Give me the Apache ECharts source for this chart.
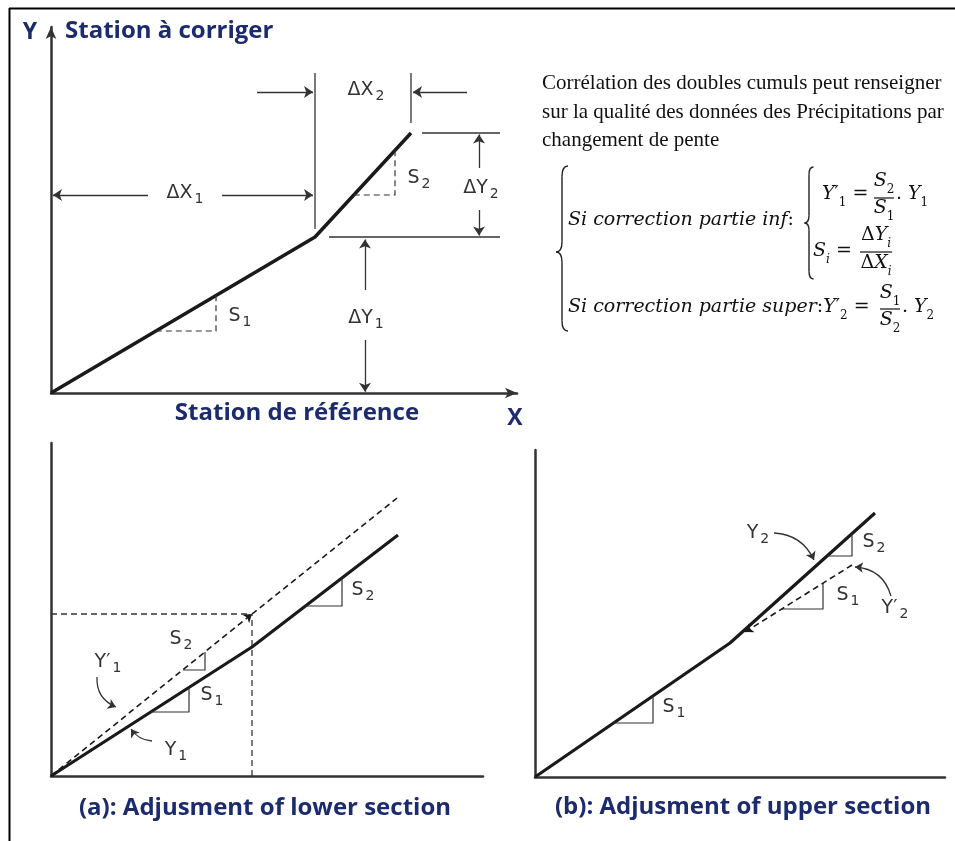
<!DOCTYPE html>
<html>
<head>
<meta charset="utf-8">
<script src="https://cdn.jsdelivr.net/npm/echarts@6/dist/echarts.min.js"></script>
<style>
  html, body { margin: 0; padding: 0; background: #ffffff; }
  #chart { width: 955px; height: 841px; }
</style>
</head>
<body>
<div id="chart"></div>
<script>
// ---------- Panel 1: double-mass curve with a change of slope ----------
const massCurve   = [[0, 0], [66, 39], [90, 65]];
const triS1       = [[26.2, 15.5], [41.25, 15.5], [41.25, 24.4]];
const triS2       = [[75.7, 49.5], [86, 49.5], [86, 60.7]];
const breakGuide  = [[66, 41], [66, 80]];
const endGuide    = [[90, 67.5], [90, 80]];
const topLevel    = [[92.75, 65], [112.25, 65]];
const breakLevel  = [[69.5, 39], [112.25, 39]];
// dimension arrows: [tail, head]
const dimArrows = [
  [[51.5, 75.25], [65.5, 75.25]],
  [[104, 75.25], [90.5, 75.25]],
  [[24.25, 49.5], [0.5, 49.5]],
  [[42.75, 49.5], [65.5, 49.5]],
  [[107, 56.25], [107, 64.6]],
  [[107, 45.75], [107, 39.4]],
  [[78.5, 25.75], [78.5, 38.4]],
  [[78.5, 13.25], [78.5, 0.3]]
];

// ---------- Panel (a): adjustment of the lower section ----------
const curveA       = [[0, 0], [50.25, 32.25], [86.75, 60.25]];
const correctedA1  = [[0, 0], [50.25, 40.5]];
const correctedA2  = [[50.25, 40.5], [86.5, 69.5]];
const levelA       = [[0, 40.5], [49.5, 40.5]];
const breakA       = [[50.25, 0], [50.25, 40.5]];
const triA_S2low   = [[33, 26.5], [38.5, 26.5], [38.5, 31]];
const triA_S1      = [[24.9, 16], [34.5, 16], [34.5, 22.1]];
const triA_S2      = [[63.6, 42.5], [72.75, 42.5], [72.75, 49.5]];
const pointerA_Y1p = [[11.5, 24.75], [16.25, 17.25]];
const pointerA_Y1  = [[25.25, 8.75], [20, 11.75]];

// ---------- Panel (b): adjustment of the upper section ----------
const curveB       = [[0, 0], [48.75, 33.5], [85, 66]];
const correctedB   = [[79.25, 53], [52.5, 36.25]];
const triB_S1low   = [[19.7, 13.5], [29.5, 13.5], [29.5, 20.3]];
const triB_S1      = [[61.7, 42], [72, 42], [72, 48.5]];
const triB_S2      = [[73, 55.25], [79.25, 55.25], [79.25, 60.9]];
const pointerB_Y2  = [[59.75, 61], [69.75, 54.25]];
const pointerB_Y2p = [[89, 45.25], [80, 52.5]];

// ---------- styling ----------
const NAVY = '#1c2b6e';
const INK = '#1a1a1a';
const GREY = '#333333';
const SANS = '"DejaVu Sans", sans-serif';
const BOLD = '"Open Sans", "Noto Sans", sans-serif';
const SERIF = '"Liberation Serif", "Times New Roman", serif';
const MATH = '"DejaVu Serif", serif';

function axesFor(gi, xmax, ymax, withArrow) {
  const line = {
    show: true, onZero: false,
    symbol: withArrow ? ['none', 'arrow'] : 'none',
    symbolSize: [8, 12],
    lineStyle: { color: GREY, width: 2.5 }
  };
  const common = {
    type: 'value', gridIndex: gi, min: 0,
    axisLine: line, axisTick: { show: false }, axisLabel: { show: false },
    splitLine: { show: false }
  };
  return {
    x: Object.assign({}, common, { max: xmax }),
    y: Object.assign({}, common, { max: ymax })
  };
}

function path(gi, data, width, dashed, color) {
  return {
    type: 'line', xAxisIndex: gi, yAxisIndex: gi, data: data,
    symbol: 'none', silent: true, animation: false, z: 3,
    lineStyle: { width: width, color: color || INK, type: dashed ? [6, 4] : 'solid', cap: 'butt', join: 'round' }
  };
}

function arrows(gi, segs, opt) {
  opt = opt || {};
  return {
    type: 'lines', coordinateSystem: 'cartesian2d', xAxisIndex: gi, yAxisIndex: gi,
    silent: true, animation: false, z: 4,
    symbol: ['none', 'arrow'], symbolSize: opt.size || 9,
    lineStyle: {
      color: opt.color || GREY, width: opt.width || 1.3, opacity: 1,
      curveness: opt.curve || 0, type: opt.dashed ? [6, 4] : 'solid'
    },
    data: segs.map(function (s) { return { coords: s }; })
  };
}

// rich text tokens: [styleName, text]
const richStyles = {
  m:   { fontFamily: SANS, fontSize: 19, lineHeight: 22, fill: GREY, verticalAlign: 'top' },
  s:   { fontFamily: SANS, fontSize: 14, lineHeight: 14, fill: GREY, verticalAlign: 'bottom', padding: [11, 0, 0, 2] },
  fi:  { fontFamily: MATH, fontStyle: 'italic', fontSize: 19, lineHeight: 24, fill: '#111', verticalAlign: 'top' },
  fu:  { fontFamily: MATH, fontSize: 19, lineHeight: 24, fill: '#111', verticalAlign: 'top' },
  fsi: { fontFamily: MATH, fontStyle: 'italic', fontSize: 12, lineHeight: 12, fill: '#111', verticalAlign: 'bottom', padding: [11, 0, 0, 0] },
  fsu: { fontFamily: MATH, fontSize: 12, lineHeight: 12, fill: '#111', verticalAlign: 'bottom', padding: [11, 0, 0, 0] }
};
function rich(tokens) {
  return tokens.map(function (t) { return '{' + t[0] + '|' + t[1] + '}'; }).join('');
}
function rtext(x, y, tokens, align) {
  return {
    type: 'text', x: x, y: y, silent: true, z: 10,
    style: { text: rich(tokens), rich: richStyles, align: align || 'center', verticalAlign: 'middle' }
  };
}
function label(x, y, main, sub, align) {
  const t = [['m', main]];
  if (sub) t.push(['s', sub]);
  return rtext(x, y, t, align);
}
function plain(x, y, text, font, color, align) {
  return {
    type: 'text', x: x, y: y, silent: true, z: 10,
    style: Object.assign({ text: text, fill: color, align: align || 'left', verticalAlign: 'middle' }, font)
  };
}
function hline(x1, x2, y, w) {
  return { type: 'line', silent: true, z: 10, shape: { x1: x1, y1: y, x2: x2, y2: y }, style: { stroke: '#111', lineWidth: w || 1.2 } };
}
function brace(x, y1, ym, y2, w) {
  const k = w * 1.7;
  const st = { stroke: '#222', lineWidth: 1.4, fill: null };
  return [
    { type: 'bezierCurve', shape: { x1: x + w, y1: y1, cpx1: x, cpy1: y1, x2: x, y2: y1 + k }, style: st },
    { type: 'line', shape: { x1: x, y1: y1 + k, x2: x, y2: ym - k }, style: st },
    { type: 'bezierCurve', shape: { x1: x, y1: ym - k, cpx1: x, cpy1: ym, x2: x - w, y2: ym }, style: st },
    { type: 'bezierCurve', shape: { x1: x - w, y1: ym, cpx1: x, cpy1: ym, x2: x, y2: ym + k }, style: st },
    { type: 'line', shape: { x1: x, y1: ym + k, x2: x, y2: y2 - k }, style: st },
    { type: 'bezierCurve', shape: { x1: x, y1: y2 - k, cpx1: x, cpy1: y2, x2: x + w, y2: y2 }, style: st }
  ].map(function (e) { e.silent = true; e.z = 10; return e; });
}

const ax0 = axesFor(0, 116.5, 91.5, true);
const ax1 = axesFor(1, 108, 83.25, false);
const ax2 = axesFor(2, 102.5, 81.75, false);

const boldNavy = function (size) { return { fontFamily: BOLD, fontWeight: 'bold', fontSize: size }; };
const serifTxt = { fontFamily: SERIF, fontSize: 21 };

const graphics = [
  // frame
  { type: 'line', silent: true, shape: { x1: 9, y1: 8.5, x2: 955, y2: 8.5 }, style: { stroke: '#000', lineWidth: 2 } },
  { type: 'line', silent: true, shape: { x1: 9.5, y1: 8, x2: 9.5, y2: 841 }, style: { stroke: '#000', lineWidth: 2 } },

  // axis titles
  plain(30, 32, 'Y', boldNavy(23), NAVY, 'center'),
  plain(65, 31, 'Station à corriger', boldNavy(24), NAVY, 'left'),
  plain(297, 413, 'Station de référence', boldNavy(24), NAVY, 'center'),
  plain(515, 418, 'X', boldNavy(23), NAVY, 'center'),
  plain(265, 808, '(a): Adjusment of lower section', boldNavy(24), NAVY, 'center'),
  plain(743, 807, '(b): Adjusment of upper section', boldNavy(24), NAVY, 'center'),

  // panel 1 annotations
  label(366, 92, 'ΔX', '2'),
  label(185, 195, 'ΔX', '1'),
  label(481, 190, 'ΔY', '2'),
  label(366, 320, 'ΔY', '1'),
  label(419, 180, 'S', '2'),
  label(240, 318, 'S', '1'),

  // panel (a) annotations
  label(181, 641, 'S', '2'),
  label(212, 697, 'S', '1'),
  label(363, 592, 'S', '2'),
  label(108, 664, 'Y′', '1'),
  label(176, 752, 'Y', '1'),

  // panel (b) annotations
  label(758, 535, 'Y', '2'),
  label(874, 544, 'S', '2'),
  label(848, 597, 'S', '1'),
  label(895, 610, 'Y′', '2'),
  label(674, 709, 'S', '1'),

  // explanatory paragraph
  plain(542, 83, 'Corrélation des doubles cumuls peut renseigner', serifTxt, '#111'),
  plain(542, 112, 'sur la qualité des données des Précipitations par', serifTxt, '#111'),
  plain(542, 140, 'changement de pente', serifTxt, '#111'),

  // correction formulas
  rtext(568, 223, [['fi', 'Si correction partie inf'], ['fu', ':']], 'left'),
  rtext(822, 197, [['fi', 'Y'], ['fu', '′'], ['fsu', '1'], ['fu', ' =']], 'left'),
  rtext(884, 184, [['fi', 'S'], ['fsu', '2']]),
  hline(874, 894, 198),
  rtext(884, 211, [['fi', 'S'], ['fsu', '1']]),
  rtext(896, 197, [['fu', '. '], ['fi', 'Y'], ['fsu', '1']], 'left'),

  rtext(813, 254, [['fi', 'S'], ['fsi', 'i'], ['fu', ' =']], 'left'),
  rtext(876, 238, [['fu', 'Δ'], ['fi', 'Y'], ['fsi', 'i']]),
  hline(860, 892, 252),
  rtext(876, 266, [['fu', 'Δ'], ['fi', 'X'], ['fsi', 'i']]),

  rtext(568, 310, [['fi', 'Si correction partie super'], ['fu', ':'], ['fi', 'Y'], ['fu', '′'], ['fsu', '2'], ['fu', ' =']], 'left'),
  rtext(890, 296, [['fi', 'S'], ['fsu', '1']]),
  hline(880, 900, 309),
  rtext(890, 323, [['fi', 'S'], ['fsu', '2']]),
  rtext(902, 310, [['fu', '. '], ['fi', 'Y'], ['fsu', '2']], 'left')
].concat(brace(562, 166, 252, 331, 6), brace(809, 167, 223, 279, 4.5));

const option = {
  backgroundColor: '#ffffff',
  animation: false,
  grid: [
    { left: 51, top: 27, width: 466, height: 366 },
    { left: 51, top: 443, width: 432, height: 333 },
    { left: 535, top: 450, width: 410, height: 327 }
  ],
  xAxis: [ax0.x, ax1.x, ax2.x],
  yAxis: [ax0.y, ax1.y, ax2.y],
  series: [
    // panel 1
    path(0, massCurve, 3.5),
    path(0, triS1, 1.2, true, GREY),
    path(0, triS2, 1.2, true, GREY),
    path(0, breakGuide, 1.3, false, GREY),
    path(0, endGuide, 1.3, false, GREY),
    path(0, topLevel, 1.3, false, GREY),
    path(0, breakLevel, 1.3, false, GREY),
    arrows(0, dimArrows, { size: 9 }),

    // panel (a)
    path(1, curveA, 3.2),
    path(1, correctedA2, 1.6, true, INK),
    arrows(1, [correctedA1], { dashed: true, width: 1.6, color: INK, size: 8 }),
    path(1, levelA, 1.3, true, GREY),
    path(1, breakA, 1.3, true, GREY),
    path(1, triA_S2low, 1.2, false, GREY),
    path(1, triA_S1, 1.2, false, GREY),
    path(1, triA_S2, 1.2, false, GREY),
    arrows(1, [pointerA_Y1p], { curve: -0.35, size: 8 }),
    arrows(1, [pointerA_Y1], { curve: 0.25, size: 8 }),

    // panel (b)
    path(2, curveB, 3.2),
    arrows(2, [correctedB], { dashed: true, width: 1.6, color: INK, size: 8 }),
    path(2, triB_S1low, 1.2, false, GREY),
    path(2, triB_S1, 1.2, false, GREY),
    path(2, triB_S2, 1.2, false, GREY),
    arrows(2, [pointerB_Y2], { curve: 0.3, size: 8 }),
    arrows(2, [pointerB_Y2p], { curve: -0.35, size: 8 })
  ],
  graphic: { elements: graphics }
};

const chart = echarts.init(document.getElementById('chart'), null, { renderer: 'canvas' });
chart.setOption(option);
</script>
</body>
</html>
